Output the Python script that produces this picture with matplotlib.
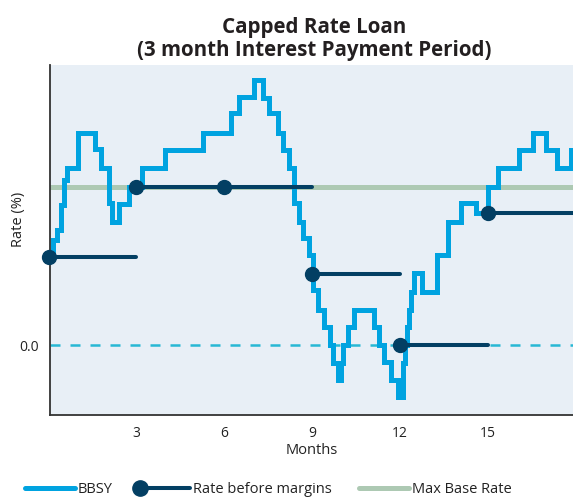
import matplotlib
matplotlib.use("Agg")
import matplotlib.pyplot as plt
from matplotlib.lines import Line2D
from matplotlib.legend_handler import HandlerLine2DCompound

plt.rcParams['font.family'] = ['Open Sans', 'DejaVu Sans']

# BBSY step changes (month where a new level starts, level in %)
bbsy_month = [0.00, 0.15, 0.29, 0.43, 0.53, 0.63, 1.01, 1.59, 1.79, 2.06,
              2.17, 2.40, 2.75, 3.19, 3.97, 5.27, 6.23, 6.50, 7.01, 7.32,
              7.52, 7.83, 8.00, 8.21, 8.38, 8.55, 8.68, 8.89, 9.03, 9.20,
              9.40, 9.61, 9.71, 9.88, 9.98, 10.05, 10.22, 10.43, 11.11, 11.28,
              11.45, 11.69, 11.93, 12.10, 12.17, 12.23, 12.30, 12.37, 12.47, 12.75,
              13.26, 13.63, 14.08, 14.59, 15.00, 15.34, 16.06, 16.53, 16.98, 17.36,
              17.84, 17.95]
bbsy_rate = [2.20, 2.63, 2.88, 3.50, 4.13, 4.43, 5.30, 4.90, 4.43, 3.55,
             3.08, 3.53, 3.95, 4.43, 4.88, 5.30, 5.80, 6.20, 6.63, 6.18,
             5.80, 5.30, 4.88, 4.43, 3.55, 3.08, 2.68, 2.25, 1.38, 0.88,
             0.45, 0.00, -0.45, -0.88, -0.45, 0.00, 0.45, 0.88, 0.45, 0.00,
             -0.43, -0.88, -1.30, -0.45, 0.00, 0.45, 0.88, 1.33, 1.80, 1.33,
             2.25, 3.08, 3.55, 3.30, 3.95, 4.43, 4.88, 5.30, 4.88, 4.43,
             4.88, 4.88]

# rate before margins, reset each quarter
reset_month = [0, 3, 6, 9, 12, 15]
reset_rate = [2.20, 3.95, 3.95, 1.78, 0.00, 3.30]
period_end = [3, 6, 9, 12, 15, 17.95]

max_base_rate = 3.95
x_ticks = [3, 6, 9, 12, 15]

c_bbsy = '#00A3E0'
c_rate = '#033F63'
c_max = '#ADC9B3'
c_zero = '#27B8D4'

fig = plt.figure(figsize=(5.73, 4.98), dpi=100)
ax = fig.add_axes([50 / 573, 1 - 415 / 498, 523 / 573, 350 / 498])
ax.set_facecolor('#E8EFF6')

ax.axhline(0, color=c_zero, lw=1.8, dashes=(4, 4), zorder=1)
ax.axhline(max_base_rate, color=c_max, lw=3.6, zorder=2)
ax.step(bbsy_month, bbsy_rate, where='post', color=c_bbsy, lw=3.6, zorder=3,
        solid_joinstyle='miter')
for m, r, e in zip(reset_month, reset_rate, period_end):
    ax.plot([m, e], [r, r], color=c_rate, lw=2.9, solid_capstyle='round', zorder=4)
ax.plot(reset_month, reset_rate, 'o', color=c_rate, ms=10, zorder=5, clip_on=False)

ax.set_xlim(0.05, 17.9)
ax.set_ylim(-1.75, 7.0)
ax.set_xticks(x_ticks)
ax.set_xticklabels([str(t) for t in x_ticks])
ax.set_yticks([0])
ax.set_yticklabels(['0.0'])
ax.tick_params(length=0, labelsize=10, colors='#222222', pad=8)
ax.set_xlabel('Months', fontsize=10.5, color='#222222', labelpad=1)
ax.set_ylabel('Rate (%)', fontsize=10.5, color='#222222')
ax.yaxis.set_label_coords(-0.045, 0.56)
for s in ['top', 'right']:
    ax.spines[s].set_visible(False)
for s in ['left', 'bottom']:
    ax.spines[s].set_color('#333333')
    ax.spines[s].set_linewidth(1.3)

fig.text(0.548, 0.966, 'Capped Rate Loan\n(3 month Interest Payment Period)',
         ha='center', va='top', fontsize=14.8, fontweight='bold',
         color='#231F20', linespacing=1.12)


class LeftDot(HandlerLine2DCompound):
    # marker sits at the left end of the legend line
    def get_xdata(self, legend, xdescent, ydescent, width, height, fontsize):
        return [-xdescent, -xdescent + width], [-xdescent]


h_bbsy = Line2D([], [], color=c_bbsy, lw=3.6, solid_capstyle='round')
h_rate = Line2D([], [], color=c_rate, lw=2.9, marker='o', ms=11, solid_capstyle='round')
h_max = Line2D([], [], color=c_max, lw=3.6, solid_capstyle='round')
fig.legend([h_bbsy, h_rate, h_max], ['BBSY', 'Rate before margins', 'Max Base Rate'],
           loc='lower left', bbox_to_anchor=(25 / 573, 0.002), ncol=3, frameon=False,
           fontsize=10.5, handlelength=3.4, handletextpad=0.2, columnspacing=1.9,
           borderpad=0, borderaxespad=0,
           handler_map={h_rate: LeftDot()}, labelcolor='#222222')

fig.savefig('out.png', dpi=100)
